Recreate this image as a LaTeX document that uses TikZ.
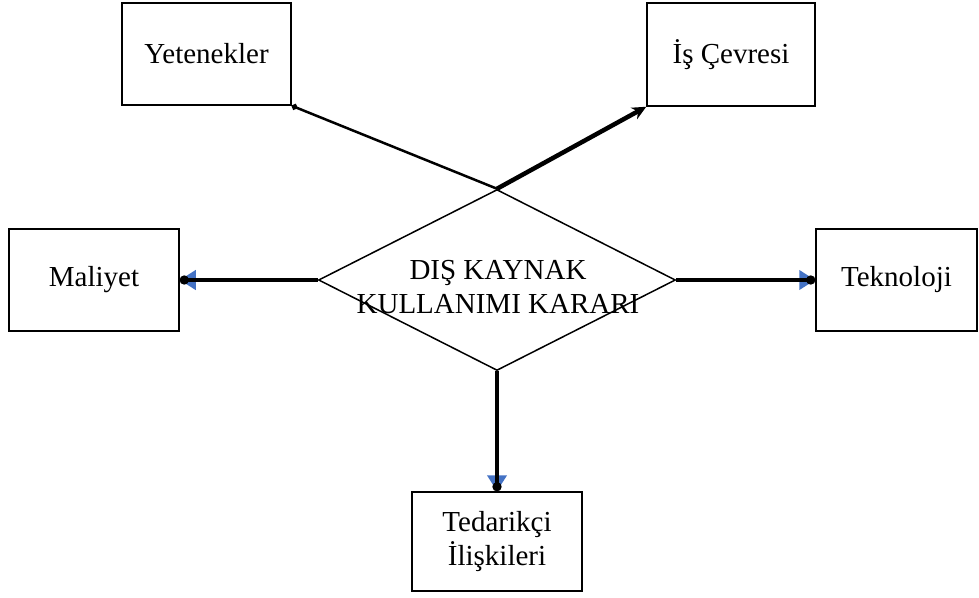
\documentclass[tikz,border=0pt]{standalone}
\usepackage{fontspec}
\setmainfont{Liberation Serif}
\usetikzlibrary{shapes.geometric,arrows.meta}
\definecolor{tipblue}{RGB}{68,114,196}
\begin{document}
\begin{tikzpicture}[x=1pt,y=-1pt,
  every node/.style={font=\fontsize{29}{34}\selectfont, inner sep=0pt},
  factor/.style={draw, line width=1.5pt, rectangle, align=center},
  thickline/.style={line width=4.5pt},
  bluetip/.style={tipblue, line width=4.5pt, -{Triangle[length=16pt,width=19pt]}},
  dottip/.style={-{Circle[length=9pt,width=9pt]}}]
\useasboundingbox (0,0) rectangle (979,597);

% central decision diamond
\node (dk) [diamond, draw, line width=1.5pt, minimum width=357pt, minimum height=181pt] at (497,280) {};
\node (dktext) [align=center] at (498,287) {DIŞ KAYNAK\\KULLANIMI KARARI};

% surrounding factors
\node (yet) [factor, minimum width=169pt, minimum height=102pt] at (206.5,54) {Yetenekler};
\node (isc) [factor, minimum width=168pt, minimum height=103pt] at (731,54.5) {İş Çevresi};
\node (mal) [factor, minimum width=170pt, minimum height=102pt] at (94,280) {Maliyet};
\node (tek) [factor, minimum width=161pt, minimum height=102pt] at (896.5,280) {Teknoloji};
\node (ted) [factor, minimum width=170pt, minimum height=99pt] at (497,541.5) {Tedarikçi\\İlişkileri};

% connectors
\draw[line width=2.5pt, -{Circle[length=6pt,width=6pt]}] (dk.north) -- (yet.south east);
\draw[thickline, -{Stealth[length=14pt,width=13pt]}] (dk.north) -- (isc.south west);

\draw[bluetip] (dk.west) -- (mal.east);
\draw[thickline, dottip] (dk.west) -- (mal.east);

\draw[bluetip] (dk.east) -- (tek.west);
\draw[thickline, dottip] (dk.east) -- (tek.west);

\draw[bluetip] (dk.south) -- (ted.north);
\draw[thickline, dottip] (dk.south) -- (ted.north);
\end{tikzpicture}
\end{document}
